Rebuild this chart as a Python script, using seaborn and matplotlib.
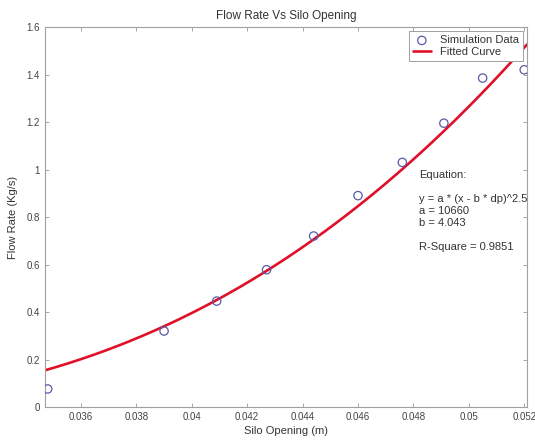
import numpy as np
import pandas as pd
import matplotlib
matplotlib.use("Agg")
import matplotlib.pyplot as plt
import seaborn as sns

# Data
opening = [0.0348, 0.0390, 0.0409, 0.0427, 0.0444, 0.0460, 0.0476, 0.0491, 0.0505, 0.0520]
flow = [0.076, 0.320, 0.446, 0.578, 0.720, 0.890, 1.030, 1.195, 1.385, 1.420]

# Fit parameters shown in the chart
a_coef = 10660
b_coef = 4.043
dp = 0.005714
exponent = 2.5

x_ticks = [0.036, 0.038, 0.040, 0.042, 0.044, 0.046, 0.048, 0.050, 0.052]
x_labels = ["0.036", "0.038", "0.04", "0.042", "0.044", "0.046", "0.048", "0.05", "0.052"]
y_ticks = [0, 0.2, 0.4, 0.6, 0.8, 1.0, 1.2, 1.4, 1.6]
y_labels = ["0", "0.2", "0.4", "0.6", "0.8", "1", "1.2", "1.4", "1.6"]

sns.set_theme(style="ticks")
plt.rcParams['font.family'] = ['Liberation Sans', 'DejaVu Sans']

fig = plt.figure(figsize=(5.35, 4.4), dpi=100)
ax = fig.add_axes([0.084, 0.075, 0.901, 0.8636])

xlim = (0.0347, 0.0521)
xs = np.linspace(xlim[0], xlim[1], 200)
fit = a_coef * (xs - b_coef * dp) ** exponent
df_pts = pd.DataFrame({"x": opening, "y": flow})
df_fit = pd.DataFrame({"x": xs, "y": fit})

sns.scatterplot(data=df_pts, x="x", y="y", ax=ax, marker="o", s=36,
                facecolors="none", edgecolor="#5a5aa8", linewidth=0.9,
                label="Simulation Data", zorder=3)
sns.lineplot(data=df_fit, x="x", y="y", ax=ax, color="#e0102a", linewidth=1.9,
             label="Fitted Curve", zorder=2)

ax.set_xlim(*xlim)
ax.set_ylim(0, 1.6)
ax.set_xticks(x_ticks)
ax.set_xticklabels(x_labels)
ax.set_yticks(y_ticks)
ax.set_yticklabels(y_labels)
ax.tick_params(direction="in", length=3, width=0.6, colors="#999999",
               labelcolor="#444444", labelsize=7, top=True, right=True)
for s in ax.spines.values():
    s.set_visible(True)
    s.set_color("#a0a0a0")
    s.set_linewidth(0.8)

ax.set_xlabel("Silo Opening (m)", fontsize=8, color="#333333", labelpad=3)
ax.set_ylabel("Flow Rate (Kg/s)", fontsize=8, color="#333333", labelpad=6)
ax.set_title("Flow Rate Vs Silo Opening", fontsize=8.5, color="#333333", pad=6)

leg = ax.legend(loc="upper right", fontsize=8, frameon=True, fancybox=False,
                framealpha=1, edgecolor="#a0a0a0", borderaxespad=0.35,
                handlelength=1.6, handletextpad=0.8, borderpad=0.4,
                labelspacing=0.15)
leg.get_frame().set_linewidth(0.7)
for t in leg.get_texts():
    t.set_color("#333333")

ax.text(0.0482, 1.0,
        "Equation:\n\ny = a * (x - b * dp)^2.5\na = 10660\nb = 4.043\n\nR-Square = 0.9851",
        fontsize=8, color="#333333", va="top", ha="left", linespacing=1.26)

fig.savefig("out.png", dpi=100, facecolor="white")
